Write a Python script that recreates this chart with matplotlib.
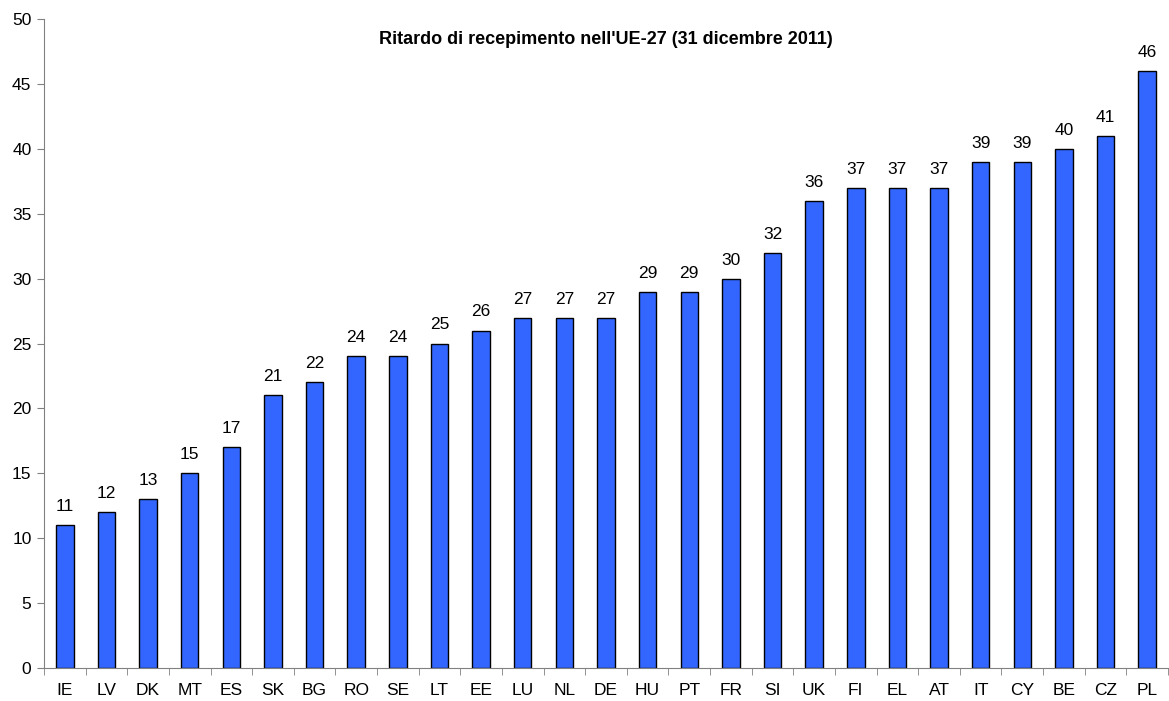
import matplotlib.pyplot as plt
import numpy as np

plt.rcParams["font.family"] = ["Liberation Sans", "DejaVu Sans"]

countries = ["IE", "LV", "DK", "MT", "ES", "SK", "BG", "RO", "SE", "LT", "EE", "LU", "NL", "DE",
             "HU", "PT", "FR", "SI", "UK", "FI", "EL", "AT", "IT", "CY", "BE", "CZ", "PL"]
values = [11, 12, 13, 15, 17, 21, 22, 24, 24, 25, 26, 27, 27, 27,
          29, 29, 30, 32, 36, 37, 37, 37, 39, 39, 40, 41, 46]
title = "Ritardo di recepimento nell'UE-27 (31 dicembre 2011)"

fig = plt.figure(figsize=(11.69, 7.01), dpi=100)
ax = fig.add_axes([44 / 1169, 33 / 701, 1124 / 1169, 649 / 701])

x = np.arange(len(countries))
bars = ax.bar(x, values, width=0.42, color="#3366FF", edgecolor="black", linewidth=1.0)
for b, v in zip(bars, values):
    ax.text(b.get_x() + b.get_width() / 2, v + 0.85, str(v), ha="center", va="bottom", fontsize=12.5)

ax.set_xlim(-0.5, len(countries) - 0.5)
ax.set_ylim(0, 50)
ax.set_yticks(range(0, 51, 5))
ax.set_xticks(x)
ax.set_xticklabels(countries)
ax.set_xticks(np.arange(-0.5, len(countries), 1), minor=True)
ax.tick_params(axis="x", which="major", length=0, pad=11, labelsize=12.5)
ax.tick_params(axis="x", which="minor", length=5, color="#808080")
ax.tick_params(axis="y", length=5, color="#808080", labelsize=12.5, pad=4)

for s in ["top", "right"]:
    ax.spines[s].set_visible(False)
for s in ["left", "bottom"]:
    ax.spines[s].set_color("#808080")

ax.text(0.5, 0.968, title, transform=ax.transAxes, ha="center", va="center",
        fontsize=13, fontweight="bold")

fig.savefig("out.png", dpi=100)
